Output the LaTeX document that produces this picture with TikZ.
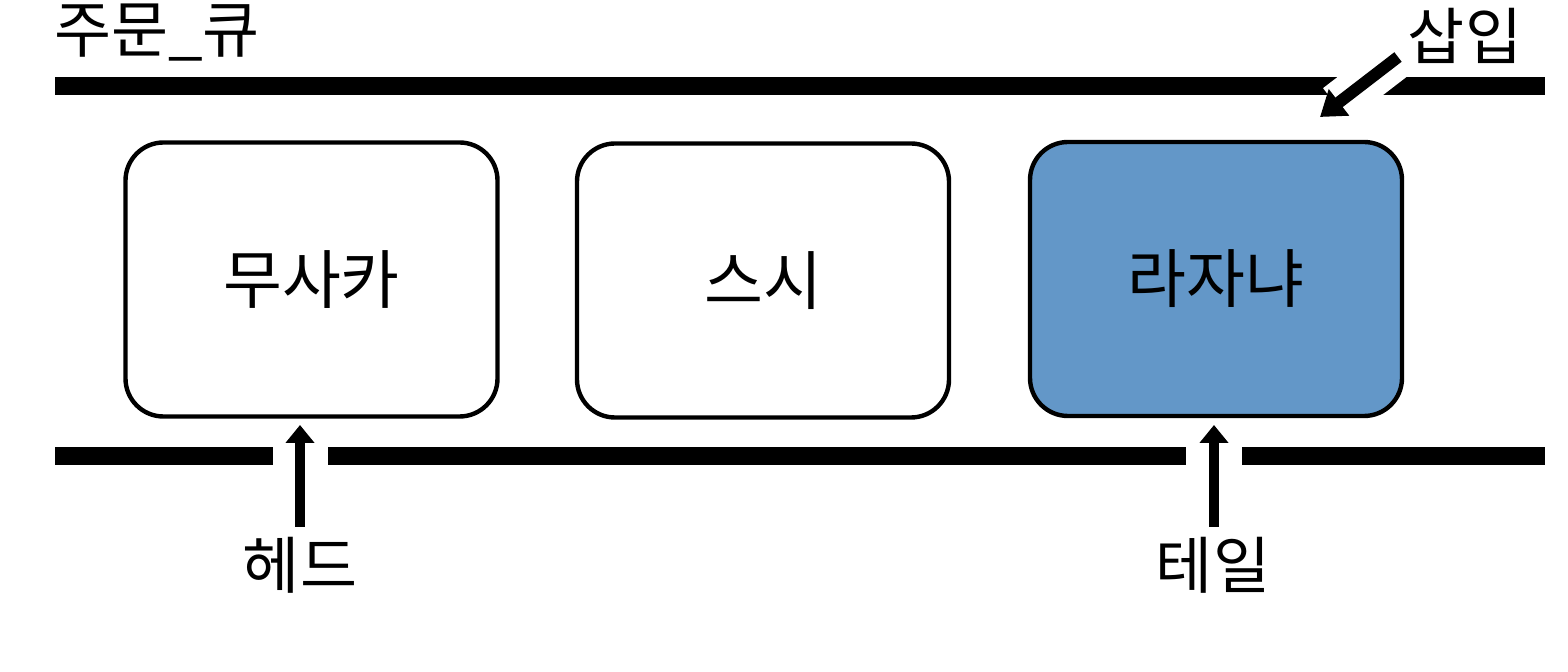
\documentclass[tikz,border=0pt]{standalone}
\usepackage{fontspec}
\setmainfont{Noto Sans CJK KR}
\usetikzlibrary{arrows.meta}
\definecolor{boxblue}{HTML}{6397C8}
\begin{document}
\begin{tikzpicture}[x=0.5pt,y=-0.5pt,
  bar/.style={line width=9pt},
  item/.style={draw=black, line width=2.2pt, rounded corners=19pt, minimum width=186pt, minimum height=137pt, inner sep=0pt, font=\fontsize{32}{38}\selectfont},
  lbl/.style={inner sep=0pt, font=\fontsize{31}{37}\selectfont},
  uparr/.style={line width=5pt, -{Triangle[width=14pt,length=9pt]}},
  insarr/.style={line width=6pt, -{Triangle[width=16pt,length=12pt]}}
]
\fill[white] (0,0) rectangle (1568,672);
\useasboundingbox (0,0) rectangle (1568,672);
% title
\node[lbl] (title) at (157,33) {주문\_큐};
% top bar
\draw[bar] (55,86) -- (1545,86);
% bottom bar segments
\draw[bar] (55,456) -- (273,456);
\draw[bar] (328,456) -- (1186,456);
\draw[bar] (1242,456) -- (1545,456);
% items
\node[item, fill=white] (b1) at (311.5,279.5) {무사카};
\node[item, fill=white] (b2) at (763,280.5) {스시};
\node[item, fill=boxblue] (b3) at (1216,279) {라자냐};
% insert arrow
\node[lbl] (ins) at (1465,36) {삽입};
\coordinate (ins0) at (1398,57);
\coordinate (ins1) at (1320,117);
\draw[white, line width=21pt, shorten >=10pt] (ins0) -- (ins1);
\draw[insarr] (ins0) -- (ins1);
% head and tail
\node[lbl] (head) at (300,565) {헤드};
\node[lbl] (tail) at (1213,565) {테일};
\coordinate (hs) at (300,527);
\coordinate (ht) at (300,425);
\coordinate (ts) at (1214,527);
\coordinate (tt) at (1214,425);
\draw[uparr] (hs) -- (ht);
\draw[uparr] (ts) -- (tt);
\end{tikzpicture}
\end{document}
